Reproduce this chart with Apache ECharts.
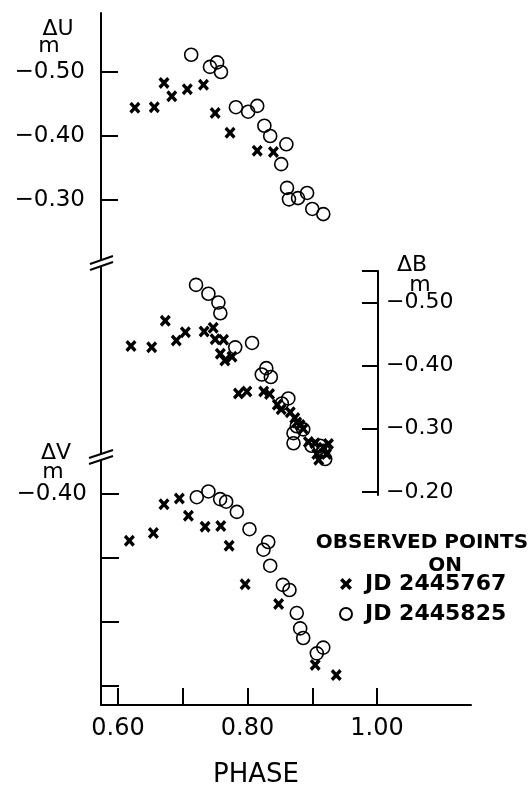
<!DOCTYPE html>
<html><head><meta charset="utf-8">
<script src="https://cdn.jsdelivr.net/npm/echarts@6/dist/echarts.min.js"></script>
<style>html,body{margin:0;padding:0;background:#fff}#c{width:532px;height:787px}</style>
</head><body><div id="c"></div>
<script>
// ---- data (phase, magnitude) ----
const uPhaseX = [0.626,0.656,0.671,0.683,0.707,0.732,0.750,0.773,0.815,0.840];
const uMagX   = [-0.444,-0.445,-0.483,-0.462,-0.473,-0.480,-0.436,-0.405,-0.377,-0.375];
const uPhaseO = [0.713,0.742,0.753,0.759,0.782,0.801,0.815,0.826,0.835,0.860,0.852,0.861,0.864,0.878,0.892,0.900,0.917];
const uMagO   = [-0.527,-0.508,-0.515,-0.500,-0.445,-0.438,-0.447,-0.416,-0.400,-0.387,-0.356,-0.319,-0.301,-0.303,-0.311,-0.286,-0.278];

const bPhaseX = [0.620,0.652,0.673,0.690,0.704,0.733,0.747,0.750,0.763,0.758,0.765,0.776,0.786,0.799,0.825,0.834,0.846,0.852,0.866,0.873,0.876,0.881,0.886,0.894,0.904,0.907,0.917,0.925,0.922,0.910];
const bMagX   = [-0.431,-0.429,-0.471,-0.440,-0.453,-0.454,-0.460,-0.442,-0.441,-0.419,-0.408,-0.414,-0.356,-0.359,-0.359,-0.355,-0.338,-0.331,-0.326,-0.317,-0.310,-0.306,-0.300,-0.279,-0.277,-0.260,-0.270,-0.276,-0.260,-0.251];
const bPhaseO = [0.7205,0.7396,0.755,0.758,0.781,0.807,0.822,0.829,0.836,0.863,0.853,0.876,0.886,0.871,0.871,0.899,0.912,0.917,0.920];
const bMagO   = [-0.528,-0.514,-0.500,-0.483,-0.429,-0.436,-0.386,-0.396,-0.382,-0.348,-0.340,-0.304,-0.299,-0.293,-0.277,-0.273,-0.273,-0.265,-0.252];

const vPhaseX = [0.6175,0.6546,0.671,0.6947,0.7087,0.7345,0.7587,0.7716,0.7963,0.848,0.9045,0.937];
const vMagX   = [-0.327,-0.339,-0.384,-0.393,-0.366,-0.349,-0.350,-0.319,-0.259,-0.228,-0.133,-0.117];
const vPhaseO = [0.7216,0.7396,0.7577,0.767,0.7835,0.803,0.8246,0.832,0.835,0.8546,0.8648,0.876,0.8813,0.886,0.907,0.917];
const vMagO   = [-0.395,-0.404,-0.392,-0.388,-0.372,-0.345,-0.313,-0.325,-0.288,-0.258,-0.250,-0.214,-0.190,-0.175,-0.151,-0.160];

const xTicks = [0.60,0.70,0.80,0.90,1.00];
const xTickLabels = [0.60,0.80,1.00];
const uTicks = [-0.50,-0.40,-0.30];
const bTicks = [-0.55,-0.50,-0.40,-0.30,-0.20];
const bTickLabels = [-0.50,-0.40,-0.30,-0.20];
const vTicks = [-0.40,-0.30,-0.20,-0.10];
const vTickLabels = [-0.40];
const nameX = 'JD 2445767', nameO = 'JD 2445825';

// ---- layout ----
const PX_X = 647.5, PX_Y = 640;
const X0 = 0.5737;
const GL = 101, GW = 370, BW = 277;
const U_TOP = 13, U_H = 447, U_MIN = -0.50 - (72 - U_TOP) / PX_Y;
const B_TOP = 271, B_H = 224, B_MIN = -0.55, B_MAX = -0.195;
const V_TOP = 460, V_H = 245, V_MIN = -0.40 - (494 - V_TOP) / PX_Y;

const FONT = 'DejaVu Sans';
const fmt = v => (v < 0 ? '\u2212' : '') + Math.abs(v).toFixed(2);
const pairs = (xs, ys) => xs.map((x, i) => [x, ys[i]]);
const XSYM = 'path://M0,2.1L2.1,0L5,2.9L7.9,0L10,2.1L7.1,5L10,7.9L7.9,10L5,7.1L2.1,10L0,7.9L2.9,5Z';
const line = {lineStyle: {color: '#000', width: 2}};

function xs(idx){ return {type:'scatter', name:nameX, symbol:XSYM, symbolSize:[11,12],
  itemStyle:{color:'#000', opacity:1}, emphasis:{disabled:true}, xAxisIndex:idx, yAxisIndex:idx}; }
function os(idx){ return {type:'scatter', name:nameO, symbol:'circle', symbolSize:13,
  itemStyle:{color:'rgba(0,0,0,0)', borderColor:'#000', borderWidth:1.6, opacity:1}, emphasis:{disabled:true}, xAxisIndex:idx, yAxisIndex:idx}; }
function txt(x, y, text, size, weight){
  return {type:'text', x:x, y:y, z:100, style:{text:text, fontSize:size, fontFamily:FONT, fontWeight:weight||'normal', fill:'#000', align:'center', verticalAlign:'middle'}};
}

const chart = echarts.init(document.getElementById('c'));
chart.setOption({
  animation: false,
  backgroundColor: '#fff',
  grid: [
    {left: GL, width: GW, top: U_TOP, height: U_H},
    {left: GL, width: BW, top: B_TOP, height: B_H},
    {left: GL, width: GW, top: V_TOP, height: V_H}
  ],
  xAxis: [
    {gridIndex:0, type:'value', show:false, min:X0, max:X0 + GW / PX_X},
    {gridIndex:1, type:'value', show:false, min:X0, max:X0 + BW / PX_X},
    {gridIndex:2, type:'value', min:X0, max:X0 + GW / PX_X, position:'bottom',
      axisLine:{show:true, onZero:false, ...line},
      axisTick:{show:true, inside:true, length:17, customValues:xTicks, lineStyle:{color:'#000', width:2}},
      axisLabel:{customValues:xTickLabels, formatter:v => v.toFixed(2), fontFamily:FONT, fontSize:24, color:'#000', margin:12},
      splitLine:{show:false}}
  ],
  yAxis: [
    {gridIndex:0, type:'value', inverse:true, min:U_MIN, max:U_MIN + U_H / PX_Y, position:'left',
      axisLine:{show:true, onZero:false, ...line},
      axisTick:{show:true, inside:true, length:17, customValues:uTicks, lineStyle:{color:'#000', width:2}},
      axisLabel:{customValues:uTicks, formatter:fmt, fontFamily:FONT, fontSize:23, color:'#000', margin:16},
      splitLine:{show:false}},
    {gridIndex:1, type:'value', inverse:true, min:B_MIN, max:B_MAX, position:'right',
      axisLine:{show:true, onZero:false, ...line},
      axisTick:{show:true, inside:true, length:16, customValues:bTicks, lineStyle:{color:'#000', width:2}},
      axisLabel:{customValues:bTickLabels, formatter:fmt, fontFamily:FONT, fontSize:22, color:'#000', margin:8},
      splitLine:{show:false}},
    {gridIndex:2, type:'value', inverse:true, min:V_MIN, max:V_MIN + V_H / PX_Y, position:'left',
      axisLine:{show:true, onZero:false, ...line},
      axisTick:{show:true, inside:true, length:18, customValues:vTicks, lineStyle:{color:'#000', width:2}},
      axisLabel:{customValues:vTickLabels, formatter:fmt, fontFamily:FONT, fontSize:23, color:'#000', margin:14},
      splitLine:{show:false}}
  ],
  legend: {
    orient:'vertical', left:339, top:573, padding:0, itemGap:8, itemWidth:12, itemHeight:12,
    data:[{name:nameX}, {name:nameO}],
    textStyle:{fontFamily:FONT, fontSize:22, fontWeight:'bold', color:'#000', padding:[0,0,0,8]}
  },
  series: [
    {...xs(0), data:pairs(uPhaseX, uMagX)},
    {...os(0), data:pairs(uPhaseO, uMagO)},
    {...xs(1), data:pairs(bPhaseX, bMagX)},
    {...os(1), data:pairs(bPhaseO, bMagO)},
    {...xs(2), data:pairs(vPhaseX, vMagX)},
    {...os(2), data:pairs(vPhaseO, vMagO)}
  ],
  graphic: [
    txt(58, 29, '\u0394U', 22),
    txt(49, 46, 'm', 22),
    txt(56, 453, '\u0394V', 22),
    txt(53, 472, 'm', 22),
    txt(412, 265, '\u0394B', 22),
    txt(420, 285, 'm', 22),
    txt(256, 775, 'PHASE', 26),
    txt(422, 543, 'OBSERVED POINTS', 20, 'bold'),
    txt(445, 566, 'ON', 20, 'bold'),
    // axis breaks
    {type:'polygon', z:100, shape:{points:[[90,264],[113,256],[113,262],[90,270]]}, style:{fill:'#fff'}},
    {type:'line', z:101, shape:{x1:90, y1:264, x2:113, y2:256}, style:{stroke:'#000', lineWidth:2}},
    {type:'line', z:101, shape:{x1:90, y1:270, x2:113, y2:262}, style:{stroke:'#000', lineWidth:2}},
    {type:'polygon', z:100, shape:{points:[[89,458],[113,450],[113,456],[89,464]]}, style:{fill:'#fff'}},
    {type:'line', z:101, shape:{x1:89, y1:458, x2:113, y2:450}, style:{stroke:'#000', lineWidth:2}},
    {type:'line', z:101, shape:{x1:89, y1:464, x2:113, y2:456}, style:{stroke:'#000', lineWidth:2}}
  ]
});
</script></body></html>
